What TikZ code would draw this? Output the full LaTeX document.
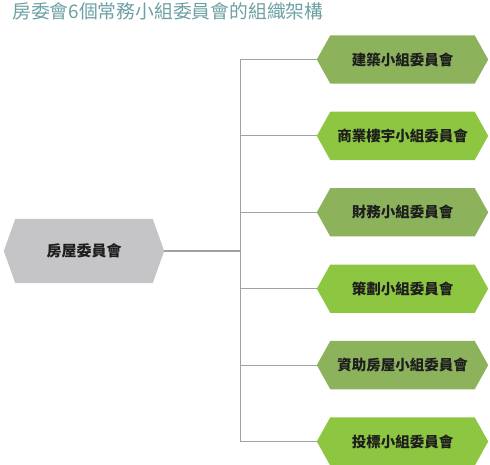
\documentclass[tikz,border=0pt]{standalone}
\usepackage{fontspec}
\setmainfont{Noto Sans CJK TC}
\usetikzlibrary{calc,backgrounds}
\definecolor{titlecol}{RGB}{108,160,162}
\definecolor{darkgreen}{RGB}{140,178,92}
\definecolor{limegreen}{RGB}{141,198,64}
\definecolor{hexgray}{RGB}{197,197,200}
\definecolor{linecol}{RGB}{160,160,168}
\definecolor{txtcol}{RGB}{30,30,30}
\tikzset{
  mainbox/.style={minimum width=160pt,minimum height=64pt,inner sep=0pt,
    text=txtcol,font=\fontsize{15pt}{15pt}\selectfont\bfseries},
  subbox/.style={minimum width=171pt,minimum height=48pt,inner sep=0pt,
    text=txtcol,font=\fontsize{14.5pt}{14.5pt}\selectfont\bfseries},
  conn/.style={draw=linecol,line width=1.2pt},
}
\newcommand\hexfill[3]{%
  \fill[#3] (#1.west) -- ($(#1.north west)+(#2,0)$) -- ($(#1.north east)-(#2,0)$)
    -- (#1.east) -- ($(#1.south east)-(#2,0)$) -- ($(#1.south west)+(#2,0)$) -- cycle;}
\begin{document}
\begin{tikzpicture}[x=1pt,y=-1pt]
\useasboundingbox (0,0) rectangle (490,465);
\node[anchor=west,text=titlecol,font=\fontsize{18.8pt}{18.8pt}\selectfont,inner sep=0pt] (title) at (12,11) {房委會6個常務小組委員會的組織架構};
\node[mainbox] (main) at (84,251) {房屋委員會};
\node[subbox] (b1) at (402.5,59.5) {建築小組委員會};
\node[subbox] (b2) at (402.5,135.9) {商業樓宇小組委員會};
\node[subbox] (b3) at (402.5,212.3) {財務小組委員會};
\node[subbox] (b4) at (402.5,288.7) {策劃小組委員會};
\node[subbox] (b5) at (402.5,365.1) {資助房屋小組委員會};
\node[subbox] (b6) at (402.5,441.5) {投標小組委員會};
\coordinate (jx) at (240.5,0);
\begin{scope}[on background layer]
\hexfill{main}{11.5}{hexgray}
\hexfill{b1}{13.5}{darkgreen}
\hexfill{b2}{13.5}{limegreen}
\hexfill{b3}{13.5}{darkgreen}
\hexfill{b4}{13.5}{limegreen}
\hexfill{b5}{13.5}{darkgreen}
\hexfill{b6}{13.5}{limegreen}
\draw[conn] (b1.west) -- (b1.west -| jx) -- (b6.west -| jx) -- (b6.west);
\draw[conn] (main.east) -- (main.east -| jx);
\foreach \b in {b2,b3,b4,b5} \draw[conn] (\b.west -| jx) -- (\b.west);
\end{scope}
\end{tikzpicture}
\end{document}
